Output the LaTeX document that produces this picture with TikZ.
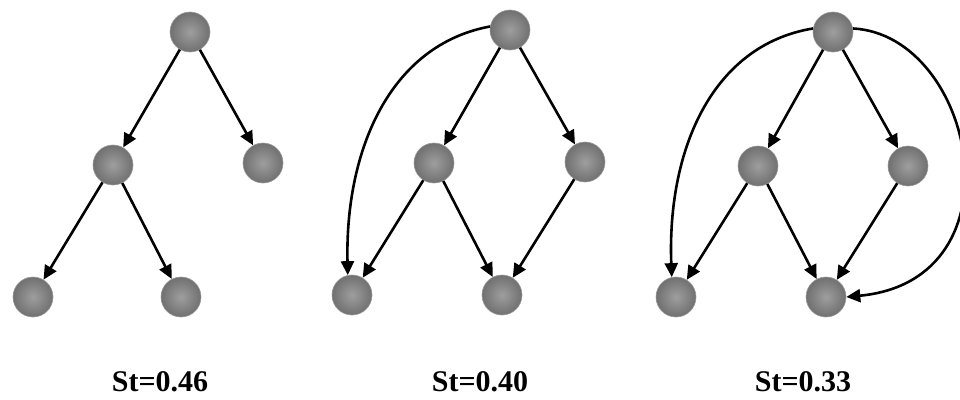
\documentclass[tikz,border=0pt]{standalone}
\usepackage{fontspec}
\setmainfont{Liberation Serif}
\usetikzlibrary{arrows.meta}
\begin{document}
\begin{tikzpicture}[x=1pt,y=-1pt,
  nd/.style={circle,minimum size=40pt,inner sep=0pt,shading=radial,inner color=black!38,outer color=black!56,draw=black!40,line width=0.6pt},
  ed/.style={line width=2.6pt,-{Triangle[length=14pt,width=13pt]}},
  lbl/.style={font=\bfseries\fontsize{30}{30}\selectfont,inner sep=0pt}]
\useasboundingbox (0,0) rectangle (960,399);
% tree 1
\node[nd] (a0) at (190,32) {};
\node[nd] (a1) at (113,165) {};
\node[nd] (a2) at (263,163) {};
\node[nd] (a3) at (33,297) {};
\node[nd] (a4) at (181,297) {};
\draw[ed] (a0) -- (a1);
\draw[ed] (a0) -- (a2);
\draw[ed] (a1) -- (a3);
\draw[ed] (a1) -- (a4);
\node[lbl] (l1) at (160,382) {St=0.46};
% tree 2
\node[nd] (b0) at (510,30) {};
\node[nd] (b1) at (434,163) {};
\node[nd] (b2) at (585,162) {};
\node[nd] (b3) at (352,295) {};
\node[nd] (b4) at (502,295) {};
\draw[ed] (b0) -- (b1);
\draw[ed] (b0) -- (b2);
\draw[ed] (b1) -- (b3);
\draw[ed] (b1) -- (b4);
\draw[ed] (b2) -- (b4);
\draw[ed] (b0.170) .. controls (390,45) and (345,150) .. (b3.102);
\node[lbl] (l2) at (480,382) {St=0.40};
% tree 3
\node[nd] (c0) at (833,32) {};
\node[nd] (c1) at (758,166) {};
\node[nd] (c2) at (908,166) {};
\node[nd] (c3) at (676,297) {};
\node[nd] (c4) at (826,297) {};
\draw[ed] (c0) -- (c1);
\draw[ed] (c0) -- (c2);
\draw[ed] (c1) -- (c3);
\draw[ed] (c1) -- (c4);
\draw[ed] (c2) -- (c4);
\draw[ed] (c0.170) .. controls (712,45) and (667,150) .. (c3.102);
\draw[ed] (c0.10) .. controls (975,35) and (1025,280) .. (c4.east);
\node[lbl] (l3) at (803,382) {St=0.33};
\end{tikzpicture}
\end{document}
